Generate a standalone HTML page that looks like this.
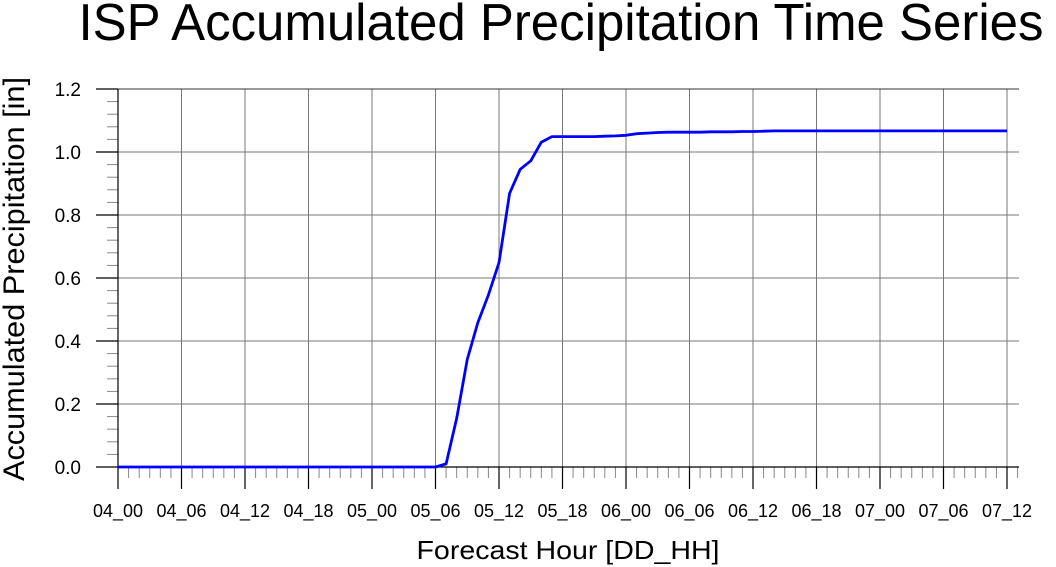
<!DOCTYPE html>
<html><head><meta charset="utf-8"><style>
body{margin:0;background:#fff;}
svg{display:block;font-family:"Liberation Sans",sans-serif;}
</style></head><body>
<svg id="chart" width="1056" height="567" viewBox="0 0 1056 567">
<text x="561" y="40" font-size="52" text-anchor="middle" textLength="965" lengthAdjust="spacingAndGlyphs">ISP Accumulated Precipitation Time Series</text>
<text transform="translate(24,279) rotate(-90)" font-size="30" text-anchor="middle" textLength="404" lengthAdjust="spacingAndGlyphs">Accumulated Precipitation [in]</text>
<text x="568" y="559" font-size="26" text-anchor="middle" textLength="303" lengthAdjust="spacingAndGlyphs">Forecast Hour [DD_HH]</text>
<g id="grid"></g><g id="axes"></g><g id="series"></g>
</svg>
<script>
const xTickLabels=["04_00","04_06","04_12","04_18","05_00","05_06","05_12","05_18","06_00","06_06","06_12","06_18","07_00","07_06","07_12"];
const yTickLabels=["0.0","0.2","0.4","0.6","0.8","1.0","1.2"];
const hours=[];for(let i=0;i<=84;i++)hours.push(i);
const precip=[0,0,0,0,0,0,0,0,0,0,0,0,0,0,0,0,0,0,0,0,0,0,0,0,0,0,0,0,0,0,
0,0.01,0.155,0.342,0.458,0.546,0.649,0.869,0.945,0.972,1.031,1.049,1.049,1.049,1.049,1.049,1.050,1.051,1.053,1.058,1.060,1.062,1.063,1.063,1.063,1.063,1.064,1.064,1.064,1.065,1.065,1.066,1.067,1.067,1.067,1.067,1.067,1.067,1.067,1.067,1.067,1.067,1.067,1.067,1.067,1.067,1.067,1.067,1.067,1.067,1.067,1.067,1.067,1.067,1.067];
const X0=118,X1=1007,Y0=467,Y1=89,XR=1019;
const sx=h=>X0+(X1-X0)*h/84;
const sy=v=>Y0-(Y0-Y1)*v/1.2;
const NS="http://www.w3.org/2000/svg";
function mk(p,t,a){const e=document.createElementNS(NS,t);for(const k in a)e.setAttribute(k,a[k]);p.appendChild(e);return e;}
const grid=document.getElementById('grid'),axes=document.getElementById('axes'),ser=document.getElementById('series');
xTickLabels.forEach((l,i)=>{const x=sx(i*6);
 const g=mk(grid,'line',{x1:x,x2:x,y1:Y1,y2:Y0,stroke:'#777','stroke-width':1});
 
 
 const t=mk(axes,'line',{x1:x,x2:x,y1:Y0,y2:Y0+22,stroke:'#000','stroke-width':1.2});
 
 
 const tx=mk(axes,'text',{x:x,y:517,'font-size':18,'text-anchor':'middle'});tx.textContent=l;
 
 
});
for(let h=0;h<=85;h++){if(h%6===0)continue;const x=sx(h);
 const t=mk(axes,'line',{x1:x,x2:x,y1:Y0,y2:Y0+11,stroke:'#888','stroke-width':1});
 
 }
yTickLabels.forEach((l,i)=>{const v=parseFloat(l),y=sy(v);
 const g=mk(grid,'line',{x1:X0,x2:XR,y1:y,y2:y,stroke:i===0||i===6?'#333':'#777','stroke-width':1});
 
 
 const t=mk(axes,'line',{x1:X0-22,x2:X0,y1:y,y2:y,stroke:'#000','stroke-width':1.2});
 
 
 const tx=mk(axes,'text',{x:81,y:y+7,'font-size':19,'text-anchor':'end'});tx.textContent=l;
 
 
 if(i<6)for(let k=1;k<5;k++){const yy=sy(v+0.04*k);
  const m=mk(axes,'line',{x1:X0-11,x2:X0,y1:yy,y2:yy,stroke:'#888','stroke-width':1});
  
  }
});
const ax=mk(axes,'line',{x1:X0,x2:X0,y1:Y1,y2:Y0,stroke:'#000','stroke-width':1.2});


const bx=mk(axes,'line',{x1:X0,x2:XR,y1:Y0,y2:Y0,stroke:'#000','stroke-width':1.2});


const pts=hours.map((h,i)=>sx(h).toFixed(1)+','+sy(precip[i]).toFixed(1)).join(' ');
const pl=mk(ser,'polyline',{points:pts,fill:'none',stroke:'#0000ff','stroke-width':2.8,'stroke-linejoin':'round'});


</script>
</body></html>
